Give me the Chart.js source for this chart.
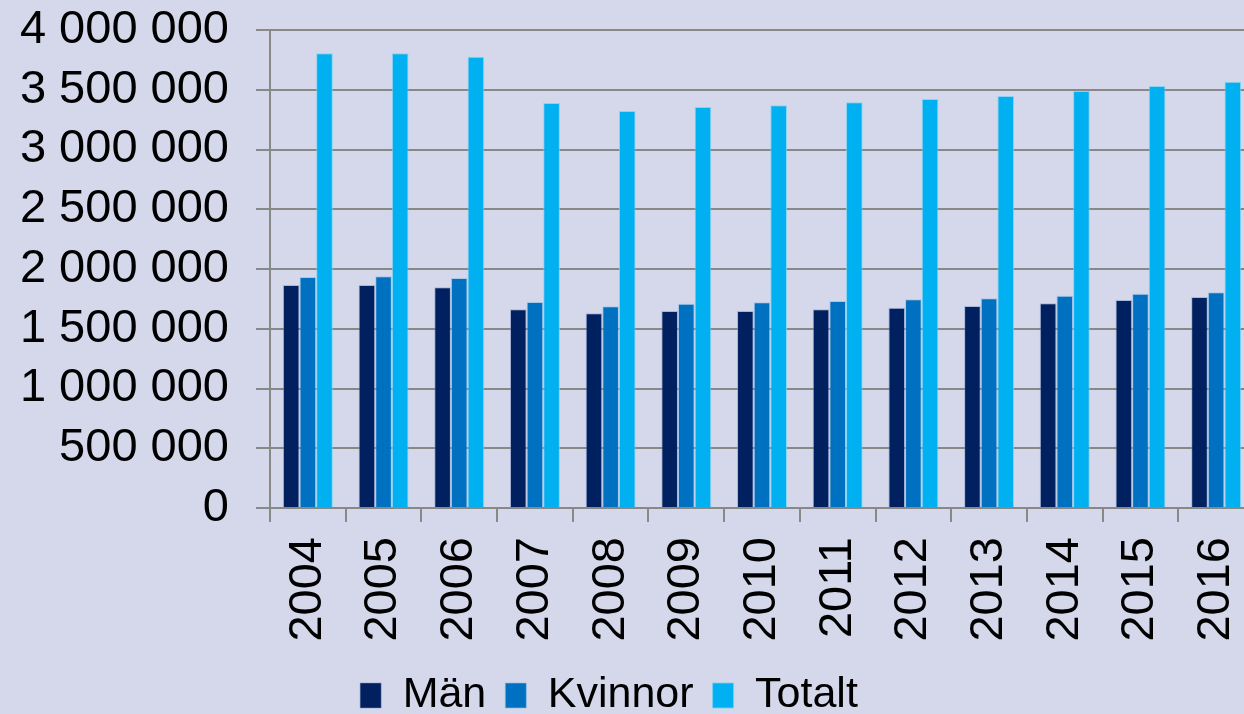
<!DOCTYPE html>
<html>
<head>
<meta charset="utf-8">
<script src="https://cdn.jsdelivr.net/npm/chart.js@4/dist/chart.umd.min.js"></script>
<style>
  html, body { margin: 0; padding: 0; background: #D4D8EA; overflow: hidden; width: 1244px; height: 714px; }
  #wrap { position: absolute; left: -36px; top: 0; width: 1290px; height: 727px; }
</style>
</head>
<body>
<div id="wrap"><canvas id="c" width="1290" height="727"></canvas></div>
<script>
const categories = ['2004','2005','2006','2007','2008','2009','2010','2011','2012','2013','2014','2015','2016'];
const man     = [1866000,1866000,1847000,1663000,1630000,1649000,1649000,1663000,1676000,1690000,1713000,1740000,1766000];
const kvinnor = [1933000,1939000,1925000,1724000,1689000,1710000,1721000,1732000,1746000,1755000,1777000,1793000,1805000];
const totalt  = [3805000,3805000,3777000,3389000,3322000,3356000,3370000,3395000,3423000,3448000,3490000,3531000,3567000];
const seriesNames = ['Män','Kvinnor','Totalt'];
const yTickLabels = ['0','500 000','1 000 000','1 500 000','2 000 000','2 500 000','3 000 000','3 500 000','4 000 000'];

const FONT = "'Liberation Sans', Arial, sans-serif";
const GRID = '#888888';

new Chart(document.getElementById('c'), {
  type: 'bar',
  data: {
    labels: categories,
    datasets: [
      { label: seriesNames[0], data: man, backgroundColor: '#002060', borderColor: 'rgba(120,150,200,0.5)', borderWidth: 1 },
      { label: seriesNames[1], data: kvinnor, backgroundColor: '#0070C0', borderColor: 'rgba(140,190,230,0.6)', borderWidth: 1 },
      { label: seriesNames[2], data: totalt, backgroundColor: '#00B0F0', borderColor: 'rgba(120,210,245,0.8)', borderWidth: 1 }
    ]
  },
  options: {
    responsive: false,
    animation: false,
    devicePixelRatio: 1,
    layout: { padding: { top: 30, left: 0, right: 0, bottom: 0 } },
    datasets: { bar: { categoryPercentage: 0.66, barPercentage: 1.0 } },
    plugins: {
      tooltip: { enabled: false },
      legend: {
        position: 'bottom',
        labels: {
          color: '#000',
          font: { family: FONT, size: 43 },
          boxWidth: 21,
          boxHeight: 25,
          padding: 19
        }
      }
    },
    scales: {
      x: {
        grid: { drawOnChartArea: false, drawTicks: true, tickLength: 14, color: GRID, lineWidth: 2, offset: true },
        border: { display: true, color: GRID, width: 2 },
        ticks: {
          color: '#000',
          font: { family: FONT, size: 47 },
          minRotation: 90, maxRotation: 90, autoSkip: false, padding: 15
        },
        afterFit: (s) => { s.height = 147; s.paddingLeft = 0; s.paddingRight = 0; }
      },
      y: {
        min: 0, max: 4000000,
        grid: { color: GRID, lineWidth: 2, tickLength: 14, drawTicks: true },
        border: { display: true, color: GRID, width: 2 },
        ticks: {
          stepSize: 500000,
          autoSkip: false,
          color: '#000',
          font: { family: FONT, size: 47 },
          padding: 27,
          callback: (v, i) => yTickLabels[i]
        },
        afterFit: (s) => { s.width = 306; s.paddingTop = 0; s.paddingBottom = 0; }
      }
    }
  }
});
</script>
</body>
</html>
